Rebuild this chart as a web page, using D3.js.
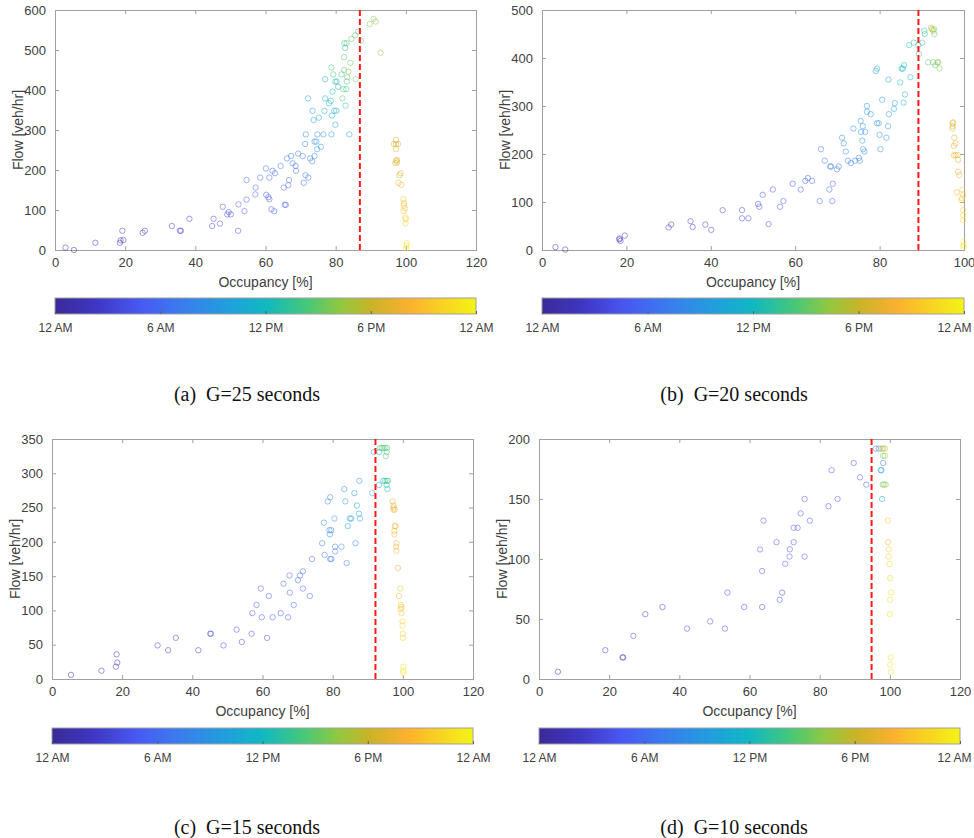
<!DOCTYPE html>
<html><head><meta charset="utf-8">
<script src="https://cdn.jsdelivr.net/npm/d3@7"></script>
<style>
body{margin:0;background:#fff;}
svg{display:block;font-family:"Liberation Sans",Arial,sans-serif;}
</style></head>
<body><svg id="chart" width="974" height="838"></svg>
<script>
// ---------- DATA (occupancy %, flow veh/hr, hour of day 0-24) ----------
const aOcc=[3.0,5.4,11.5,18.5,18.7,19.5,19.2,25.0,25.6,33.3,35.6,35.9,38.3,44.8,45.2,47.0,47.8,49.1,49.5,50.1,52.3,52.2,54.0,54.6,54.6,57.2,57.1,58.5,60.1,60.2,60.8,61.1,61.1,62.0,62.7,61.7,62.5,64.3,65.2,65.5,65.8,66.1,66.5,66.7,67.3,67.7,68.6,68.7,69.3,70.6,70.9,71.3,71.5,71.4,72.2,72.1,72.7,73.3,73.4,73.7,74.0,74.0,74.5,74.7,74.8,75.2,75.8,76.5,76.8,77.0,77.0,78.1,78.6,78.8,78.8,78.9,79.1,79.3,79.6,79.9,79.9,80.2,80.3,80.7,81.7,81.9,82.2,82.4,82.4,82.5,82.7,82.8,83.0,83.1,83.2,83.3,83.6,83.9,84.2,84.5,85.5,85.7,86.4,87.2,89.7,90.8,91.4,92.8,97.2,96.6,97.2,97.8,97.2,97.2,97.5,97.0,97.5,98.5,98.2,97.9,98.7,99.3,99.5,99.4,99.3,99.8,99.9,100.0,99.9,100.3,100.2,100.1];
const aFlow=[6,0,18,18,24,25,48,43,48,60,48,48,78,60,78,66,108,89,95,89,114,48,97,126,175,156,139,181,204,138,132,127,181,198,192,102,97,210,156,113,113,229,162,175,235,217,210,198,241,235,168,265,289,187,181,379,229,222,348,325,235,271,271,252,289,331,258,289,348,427,379,367,373,289,456,336,396,439,348,313,421,348,421,408,439,379,402,482,450,517,505,361,402,517,421,432,446,289,468,528,537,427,546,523,565,578,571,493,275,265,265,265,252,223,225,217,219,192,187,168,163,127,117,111,97,104,81,77,67,17,11,4];
const aHour=[1,1,2,2,2,2,3,3,3,3,3,3,3,4,4,4,4,4,4,4,5,4,5,5,6,6,6,6,6,5,5,5,6,6,6,5,5,7,6,5,5,7,6,6,7,7,7,7,7,7,6,8,8,7,7,10,8,8,10,10,8,9,9,9,9,10,9,9,11,11,11,11,12,9,14,11,12,14,11,11,12,11,13,13,13,14,14,15,15,14,13,13,14,14,14,15,16,10,15,15,15,15,15,15,16,16,16,16,19,19,19,19,19,19,19,19,19,19,19,20,20,21,21,21,21,21,22,22,22,23,23,23];

const bOcc=[3.2,5.5,18.4,18.6,18.3,19.6,30,30.6,35.2,35.7,38.7,40.1,42.8,47.4,47.4,48.9,51.2,51.5,52.3,53.7,54.7,56.4,57.2,59.4,61.3,62.4,63,64,65.8,66.1,67,68.3,68.5,68.1,68.9,68.8,69.9,70.3,71.1,71.5,72,72.5,73.2,73.8,74.2,75.1,75.3,75.5,75.6,76,75.9,76.1,76.4,76.6,77,77,77.9,79.1,79.4,79.4,79.8,80,80.2,80.6,81.6,82,82.1,82.2,83.4,83.6,84.9,85.2,85.5,85.8,85.7,86,87.3,87,88.1,89.2,89.3,90.1,90.6,90.7,91.5,92.2,92.4,92.7,92.9,93,92.7,93.2,93.7,93.9,94.2,97.3,97.3,97.3,97.4,97.7,97.6,98,97.6,98,98.5,98.6,98.6,98.9,98.3,99.4,99.5,99.6,99.8,99.8,99.8,99.8,99.9,99.9,99.9];
const bFlow=[6,1,24,19,22,30,47,53,60,48,53,42,83,83,66,66,96,90,115,54,126,90,102,138,126,144,150,144,102,210,186,174,174,126,138,102,168,174,234,222,205,186,181,253,186,192,186,269,246,258,228,210,205,246,300,288,283,373,378,264,264,240,210,313,234,258,355,283,294,306,349,378,378,385,307,324,360,427,432,427,408,432,457,450,391,463,460,457,460,450,391,385,391,391,378,264,258,253,266,234,217,222,197,198,198,188,163,156,120,104,108,126,115,83,73,62,17,10,6];
const bHour=[1,1,2,2,2,2,3,3,3,3,3,3,4,4,4,4,4,4,5,4,5,5,5,5,5,5,6,6,6,7,7,7,7,6,6,6,7,7,8,8,8,8,7,9,8,8,8,9,9,9,9,9,8,9,9,9,9,10,10,9,9,9,9,10,9,10,10,10,10,10,11,11,12,12,11,11,12,13,13,13,14,13,13,13,15,17,17,17,16,15,15,15,16,16,16,19,19,19,19,19,19,20,20,20,20,20,20,20,20,21,21,21,21,22,22,22,23,23,23];

const cOcc=[5.4,14.1,18.4,18.6,18.2,30.1,33.1,35.3,41.7,45.1,45.3,48.9,52.6,54.1,56.9,57.1,58.3,59.5,59.8,61.3,61.8,62.9,65.2,66,67.3,67.7,67.8,68.9,70.1,70.7,71.5,71.5,73.5,74.1,77,77.5,77.7,78.6,79.3,79.1,79.2,79.6,79.3,79.6,80.5,80.7,80.7,82.5,83.3,83.6,84,84.3,84.9,85.3,86.2,86.5,86.9,87.5,87.8,87.6,91.3,91.7,93.3,93.2,93.5,94,94.5,95,95.5,94.4,94.9,95.4,95.8,95.1,95.4,95.4,95.6,97.1,97.3,97.4,97.3,97.7,97.7,97.9,97.6,97.6,98.2,98.1,98.2,98.6,99.3,98.9,99.4,99.6,99.4,99.6,99.9,99.9,100,100,100.1,100.1,100.2];
const cFlow=[6,12,36,24,18,49,42,60,42,66,66,49,72,54,66,96,108,132,90,60,121,90,96,139,90,151,126,108,144,151,157,132,121,175,198,228,181,259,265,217,211,217,175,175,234,193,186,193,277,259,169,223,234,234,271,198,253,241,234,289,271,331,331,283,337,337,337,337,337,289,289,289,289,325,331,283,277,259,253,250,247,247,223,223,216,211,198,193,187,162,132,121,108,105,102,96,84,78,66,60,18,12,9];
const cHour=[1,2,2,2,2,3,3,3,3,4,4,4,4,4,4,5,5,5,5,4,5,5,5,6,5,6,6,6,6,6,6,6,6,7,7,8,7,8,8,8,8,8,7,7,8,7,7,8,9,9,8,9,9,9,9,8,10,10,10,9,9,10,10,10,14,15,14,15,14,12,13,14,14,14,14,13,12,19,19,20,19,20,20,20,20,20,20,20,20,20,21,21,21,21,21,21,22,22,22,22,23,23,23];

const dOcc=[5.4,18.9,23.8,24,26.9,30.3,35.2,42.2,48.8,53,53.7,58.5,63,63.6,63.6,64,67.7,68.6,69.3,70.2,71.4,71.5,72.6,72.6,73.7,74.6,75.7,75.7,77.2,82.5,83.4,85.1,89.7,91.5,93.3,96,96.9,97.7,98.1,98.6,98.1,98.6,98.1,97.4,97.6,98,98.4,98.8,97.8,99.4,99.5,99.7,99.7,99.9,100.1,100.3,100.1,100,100.3,100.1,100.3];
const dFlow=[6,24,18,18,36,54,60,42,48,42,72,60,108,90,60,132,114,66,72,96,102,108,114,126,126,138,150,102,132,144,174,150,180,168,162,192,192,192,192,192,186,186,180,174,174,162,162,162,150,132,114,108,102,96,84,72,66,54,18,12,6];
const dHour=[2,3,2,2,3,3,3,4,4,4,4,4,5,5,4,5,5,4,4,5,5,5,5,5,5,5,5,5,5,5,5,5,5,5,5,6,8,18,17,18,15,17,7,10,10,14,17,16,11,21,21,22,22,22,22,23,23,23,23,23,23];

const captions=["(a)","(b)","(c)","(d)"];
const gValues=["G=25 seconds","G=20 seconds","G=15 seconds","G=10 seconds"];
const criticalOcc=[86.9,89.2,92.2,94.8];
const xMaxes=[120,100,120,120];
const yMaxes=[600,500,350,200];
const yStep=[100,100,50,50];
const cbarLabels=["12 AM","6 AM","12 PM","6 PM","12 AM"];
const cbarHours=[0,6,12,18,24];

// colormap stops (fraction of day -> colour)
const cmapPos=[0,0.1,0.2,0.3,0.42,0.5,0.6,0.68,0.75,0.84,0.92,1];
const cmapCol=["#3a2a98","#3f37c4","#4858f2","#3a7cee","#1ea2dc","#10b8c2","#48c878","#92c840","#c8b428","#fbb030","#f8d222","#f4f414"];
const cmap=d3.scaleLinear().domain(cmapPos).range(cmapCol).interpolate(d3.interpolateRgb);

// ---------- LAYOUT ----------
const panels=[
 {occ:aOcc,flow:aFlow,hour:aHour,L:55,R:476,T:10,B:250,cbT:298,capY:401,capX:247},
 {occ:bOcc,flow:bFlow,hour:bHour,L:542,R:964,T:10,B:250,cbT:298,capY:401,capX:734},
 {occ:cOcc,flow:cFlow,hour:cHour,L:52,R:473,T:439,B:679,cbT:728,capY:834,capX:247},
 {occ:dOcc,flow:dFlow,hour:dHour,L:539,R:960,T:439,B:679,cbT:728,capY:834,capX:734}
];

const svg=d3.select("#chart");
const defs=svg.append("defs");
const grad=defs.append("linearGradient").attr("id","cbgrad").attr("x1","0%").attr("x2","100%");
cmapPos.forEach((p,i)=>grad.append("stop").attr("offset",(p*100)+"%").attr("stop-color",cmapCol[i]));

const axisCol="#a0a0a0", textCol="#404040";

panels.forEach((p,i)=>{
  const g=svg.append("g");
  const x=d3.scaleLinear().domain([0,xMaxes[i]]).range([p.L,p.R]);
  const y=d3.scaleLinear().domain([0,yMaxes[i]]).range([p.B,p.T]);
  const xt=d3.range(0,xMaxes[i]+0.1,20);
  const yt=d3.range(0,yMaxes[i]+0.1,yStep[i]);

  const ax=d3.axisBottom(x).tickValues(xt).tickSize(-4).tickPadding(8).tickFormat(d3.format("d"));
  const gx=g.append("g").attr("transform",`translate(0,${p.B})`).call(ax);
  const ay=d3.axisLeft(y).tickValues(yt).tickSize(-4).tickPadding(9).tickFormat(d3.format("d"));
  const gy=g.append("g").attr("transform",`translate(${p.L},0)`).call(ay);
  const gt=g.append("g").attr("transform",`translate(0,${p.T})`).call(d3.axisTop(x).tickValues(xt).tickSize(-4).tickFormat(""));
  const gr=g.append("g").attr("transform",`translate(${p.R},0)`).call(d3.axisRight(y).tickValues(yt).tickSize(-4).tickFormat(""));
  [gx,gy,gt,gr].forEach(a=>{
    a.select(".domain").attr("stroke",axisCol).attr("stroke-width",1);
    a.selectAll(".tick line").attr("stroke",axisCol);
    a.selectAll(".tick text").attr("fill",textCol).attr("font-size",13).attr("font-family","Liberation Sans, Arial, sans-serif");
  });

  g.append("g").selectAll("circle").data(p.occ.map((o,k)=>({o,f:p.flow[k],h:p.hour[k]})))
    .join("circle")
    .attr("cx",d=>x(d.o)).attr("cy",d=>y(d.f)).attr("r",2.7)
    .attr("fill","none").attr("stroke",d=>cmap(d.h/24)).attr("stroke-opacity",0.5).attr("stroke-width",1);

  g.append("line").attr("x1",x(criticalOcc[i])).attr("x2",x(criticalOcc[i]))
    .attr("y1",y(0)).attr("y2",y(yMaxes[i]))
    .attr("stroke","#ff1a1a").attr("stroke-width",2).attr("stroke-dasharray","6,3");

  g.append("text").attr("x",(p.L+p.R)/2).attr("y",p.B+37).attr("text-anchor","middle")
    .attr("font-size",14).attr("fill",textCol).text("Occupancy [%]");
  g.append("text").attr("transform",`translate(${p.L-32},${(p.T+p.B)/2}) rotate(-90)`).attr("text-anchor","middle")
    .attr("font-size",14).attr("fill",textCol).text("Flow [veh/hr]");

  const cx=d3.scaleLinear().domain([0,24]).range([p.L,p.R]);
  g.append("rect").attr("x",p.L).attr("y",p.cbT).attr("width",p.R-p.L).attr("height",16)
    .attr("fill","url(#cbgrad)").attr("stroke",axisCol).attr("stroke-width",1);
  const cb=g.append("g").attr("transform",`translate(0,${p.cbT+16})`)
    .call(d3.axisBottom(cx).tickValues(cbarHours).tickSize(-3).tickPadding(9).tickFormat((d,k)=>cbarLabels[k]));
  cb.select(".domain").remove();
  cb.selectAll(".tick line").attr("stroke","#606060");
  cb.selectAll(".tick text").attr("fill",textCol).attr("font-size",12).attr("font-family","Liberation Sans, Arial, sans-serif")
    .each(function(d){
      // keep labels inside the page
      const w=this.getComputedTextLength();
      const cxp=cx(d);
      const over=cxp+w/2-971;
      if(over>0) d3.select(this).attr("dx",-over);
    });

  const cap=g.append("text").attr("x",p.capX).attr("y",p.capY).attr("text-anchor","middle")
    .attr("font-family","Liberation Serif, Times New Roman, serif").attr("font-size",20).attr("fill","#111");
  cap.append("tspan").text(captions[i]);
  cap.append("tspan").attr("dx",10).text(gValues[i]);
});
</script></body></html>
